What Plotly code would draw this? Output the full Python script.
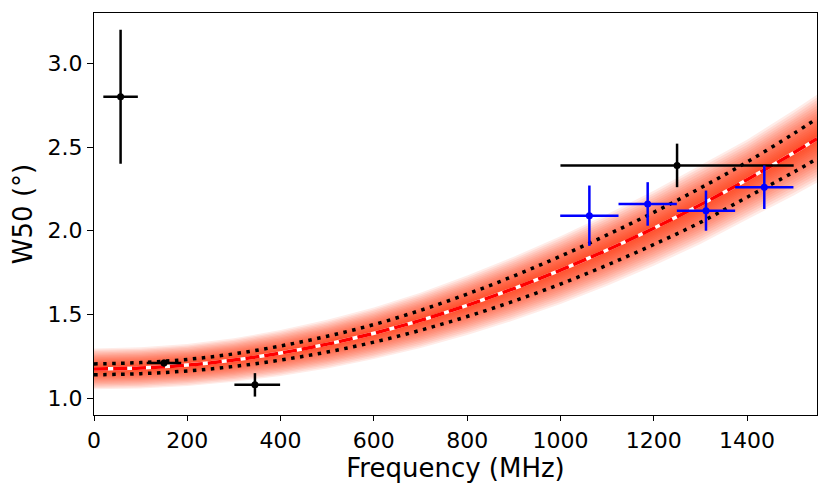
import numpy as np
import plotly.graph_objects as go

# ---- measured data ----
freq_black = [57, 150, 345, 1250]
w50_black = [2.80, 1.21, 1.08, 2.39]
freq_black_err_plus = [37, 37, 54, 250]
freq_black_err_minus = [37, 37, 44, 250]
w50_black_err = [0.40, 0.02, 0.07, 0.13]

freq_blue = [1062, 1187, 1312, 1437]
w50_blue = [2.09, 2.16, 2.12, 2.26]
freq_blue_err = [62.5, 62.5, 62.5, 62.5]
w50_blue_err = [0.18, 0.13, 0.12, 0.13]

# ---- fitted model ----
fit_freq = [0, 100, 200, 300, 400, 500, 600, 700, 800, 900, 1000, 1100, 1200, 1300, 1400, 1500, 1550]
fit_w50 = [1.175, 1.181, 1.198, 1.228, 1.270, 1.323, 1.388, 1.465, 1.555, 1.655, 1.765, 1.885, 2.015, 2.155, 2.305, 2.465, 2.55]
fit_upper = [1.205, 1.213, 1.232, 1.265, 1.312, 1.370, 1.440, 1.525, 1.622, 1.730, 1.848, 1.975, 2.110, 2.255, 2.410, 2.580, 2.670]
fit_lower = [1.140, 1.147, 1.163, 1.190, 1.228, 1.276, 1.335, 1.406, 1.488, 1.580, 1.682, 1.795, 1.918, 2.050, 2.200, 2.350, 2.430]

fig = go.Figure()

xs = np.array(fit_freq, dtype=float)
yc = np.array(fit_w50)
hw = (np.array(fit_upper) - np.array(fit_lower)) / 2.0

# glow band (stacked translucent layers -> gradient)
N = 20
for j in range(N, 0, -1):
    f = (j / N) ** 1.3
    w = f * (1.6 * hw + 0.07)
    fig.add_trace(go.Scatter(
        x=np.concatenate([xs, xs[::-1]]),
        y=np.concatenate([yc + w, (yc - w)[::-1]]),
        fill="toself", fillcolor="rgba(255,55,10,0.095)",
        line=dict(width=0), mode="lines", hoverinfo="skip", showlegend=False))

for band in (fit_upper, fit_lower):
    fig.add_trace(go.Scatter(x=fit_freq, y=band, mode="lines",
                             line=dict(color="black", width=3.5, dash="3.5px,5.5px", shape="spline"),
                             showlegend=False))

fig.add_trace(go.Scatter(x=fit_freq, y=fit_w50, mode="lines",
                         line=dict(color="white", width=3.5, shape="spline"), showlegend=False))
fig.add_trace(go.Scatter(x=fit_freq, y=fit_w50, mode="lines",
                         line=dict(color="red", width=3.5, dash="14px,5px", shape="spline"), showlegend=False))

fig.add_trace(go.Scatter(
    x=freq_black, y=w50_black, mode="markers",
    marker=dict(color="black", size=7),
    error_x=dict(type="data", array=freq_black_err_plus, arrayminus=freq_black_err_minus,
                 symmetric=False, color="black", thickness=2.5, width=0),
    error_y=dict(type="data", array=w50_black_err, color="black", thickness=2.5, width=0),
    showlegend=False))

fig.add_trace(go.Scatter(
    x=freq_blue, y=w50_blue, mode="markers",
    marker=dict(color="blue", size=7),
    error_x=dict(type="data", array=freq_blue_err, color="blue", thickness=2.5, width=0),
    error_y=dict(type="data", array=w50_blue_err, color="blue", thickness=2.5, width=0),
    showlegend=False))

font = "DejaVu Sans"
# page has an 8px body margin, so the figure is sized/offset accordingly
fig.update_layout(
    width=814, height=480,
    margin=dict(l=86, r=5, t=5, b=73),
    paper_bgcolor="white", plot_bgcolor="white",
    font=dict(family=font, color="black"),
    showlegend=False,
)
fig.update_xaxes(
    range=[0, 1550], tickvals=[0, 200, 400, 600, 800, 1000, 1200, 1400],
    ticks="outside", ticklen=5, tickwidth=1.2, tickcolor="black",
    showline=True, linecolor="black", linewidth=1.3, mirror=True,
    showgrid=False, zeroline=False, automargin=False,
    tickfont=dict(size=22, family=font),
    title=dict(text="Frequency (MHz)", font=dict(size=26, family=font), standoff=6),
)
fig.update_yaxes(
    range=[0.9, 3.3], tickvals=[1.0, 1.5, 2.0, 2.5, 3.0], ticktext=["1.0", "1.5", "2.0", "2.5", "3.0"],
    ticks="outside", ticklen=6, tickwidth=1.2, tickcolor="black",
    showline=True, linecolor="black", linewidth=1.3, mirror=True,
    showgrid=False, zeroline=False, automargin=False,
    tickfont=dict(size=22, family=font),
    title=dict(text="W50 (°)", font=dict(size=26, family=font), standoff=10),
)

fig.write_html("out.html")
